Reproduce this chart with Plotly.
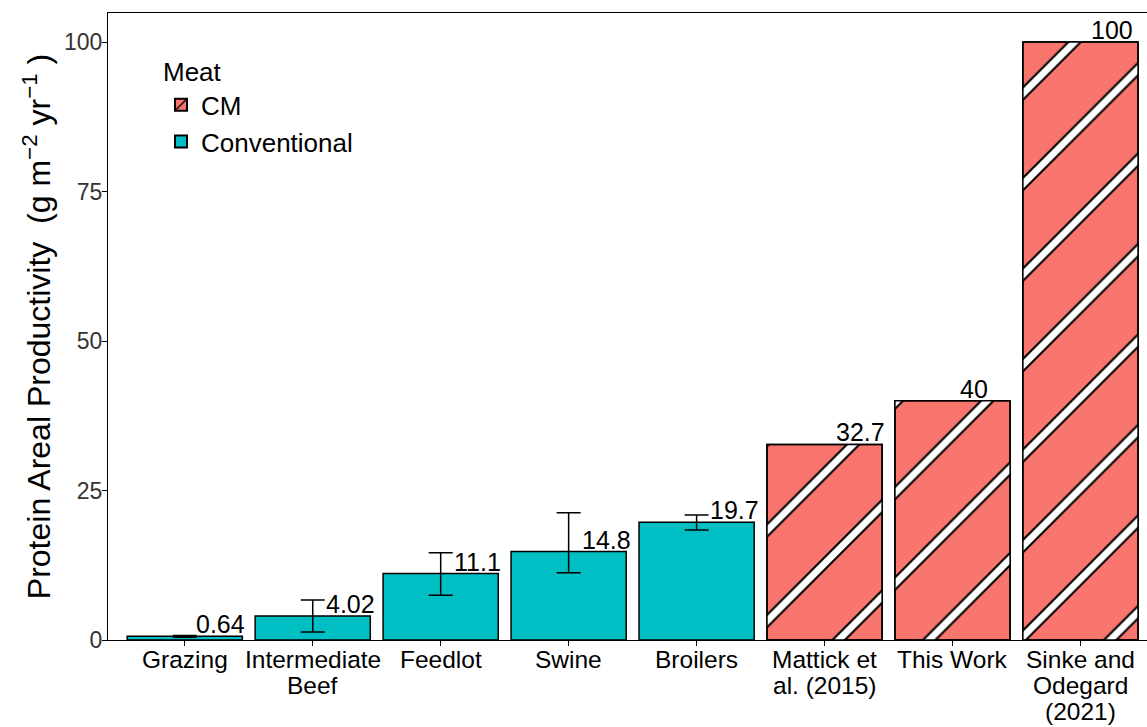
import plotly.graph_objects as go

categories = ["Grazing", "Intermediate<br>Beef", "Feedlot", "Swine", "Broilers",
              "Mattick et<br>al. (2015)", "This Work", "Sinke and<br>Odegard<br>(2021)"]
meat_type = ["Conventional"] * 5 + ["CM"] * 3
values = [0.64, 4.02, 11.1, 14.8, 19.7, 32.7, 40, 100]
labels = ["0.64", "4.02", "11.1", "14.8", "19.7", "32.7", "40", "100"]
err_low = [0.45, 1.35, 7.5, 11.25, 18.4, None, None, None]
err_high = [0.75, 6.7, 14.6, 21.3, 20.9, None, None, None]
y_ticks = [0, 25, 50, 75, 100]

TEAL = "#00BFC4"
RED = "#F8766D"
FONT = "Liberation Sans, Arial, sans-serif"
label_dx = [0.49, 0.50, 0.49, 0.50, 0.50, 0.49, 0.29, 0.43]  # label right-edge offset (style)

xs = list(range(len(categories)))
conv = [i for i, m in enumerate(meat_type) if m == "Conventional"]
cm = [i for i, m in enumerate(meat_type) if m == "CM"]

fig = go.Figure()

# CM bars: red with black stripes (outline of stripes)
fig.add_trace(go.Bar(
    x=[xs[i] for i in cm], y=[values[i] for i in cm], name="CM", width=0.9,
    marker=dict(color=RED, line=dict(color="black", width=1.5),
                pattern=dict(shape="/", fgcolor="black", bgcolor=RED, size=64,
                             solidity=0.17, fillmode="replace")),
    legendrank=1,
))
# white stripe core
fig.add_trace(go.Bar(
    x=[xs[i] for i in cm], y=[values[i] for i in cm], name="CM-white", width=0.9,
    showlegend=False, hoverinfo="skip",
    marker=dict(color="rgba(0,0,0,0)", line=dict(color="black", width=1.5),
                pattern=dict(shape="/", fgcolor="white", bgcolor="rgba(0,0,0,0)", size=64,
                             solidity=0.105, fillmode="replace")),
))

# Conventional bars
fig.add_trace(go.Bar(
    x=[xs[i] for i in conv], y=[values[i] for i in conv], name="Conventional", width=0.9,
    marker=dict(color=TEAL, line=dict(color="black", width=1.5)),
    error_y=dict(type="data", symmetric=False,
                 array=[err_high[i] - values[i] for i in conv],
                 arrayminus=[values[i] - err_low[i] for i in conv],
                 color="black", thickness=1.5, width=12),
    legendrank=2,
))

# value labels
for i in xs:
    fig.add_annotation(x=i + label_dx[i], y=values[i], text=labels[i], showarrow=False,
                       xanchor="right", yanchor="bottom", yshift=-4,
                       font=dict(family=FONT, size=25, color="black"))

# x category labels (tight line spacing like the reference)
for i, cat in enumerate(categories):
    for k, line in enumerate(cat.split("<br>")):
        fig.add_annotation(x=xs[i], y=0, xref="x", yref="paper", text=line,
                           showarrow=False, xanchor="center", yanchor="top",
                           yshift=-4 - 26 * k,
                           font=dict(family=FONT, size=24.5, color="black"))

fig.update_layout(
    width=1147, height=727,
    margin=dict(l=108, r=0, t=13, b=87),
    paper_bgcolor="white", plot_bgcolor="white",
    barmode="overlay",
    font=dict(family=FONT, color="black"),
    showlegend=True,
    legend=dict(x=0.051, y=0.945, xanchor="left", yanchor="top",
                title=dict(text="Meat", font=dict(size=26, family=FONT)),
                font=dict(size=26, family=FONT), bgcolor="rgba(0,0,0,0)",
                traceorder="normal", itemsizing="constant", tracegroupgap=0),
    xaxis=dict(range=[-0.6, 7.52], tickmode="array", tickvals=xs, showticklabels=False,
               ticks="outside", ticklen=5, tickcolor="black", tickwidth=1,
               showline=True, linecolor="black", linewidth=1, mirror=True,
               showgrid=False, zeroline=False),
    yaxis=dict(range=[0, 104.85], tickvals=y_ticks,
               ticks="outside", ticklen=5, tickcolor="black", tickwidth=1,
               showline=True, linecolor="black", linewidth=1, mirror=True,
               showgrid=False, zeroline=False, ticklabelstandoff=-5,
               tickfont=dict(size=23, family=FONT, color="#333333"),
               title=dict(text="Protein Areal Productivity  (g m<sup>\u22122</sup> yr<sup>\u22121</sup> )",
                          font=dict(size=32, family=FONT, color="black"), standoff=3)),
)

fig.write_html("out.html")
